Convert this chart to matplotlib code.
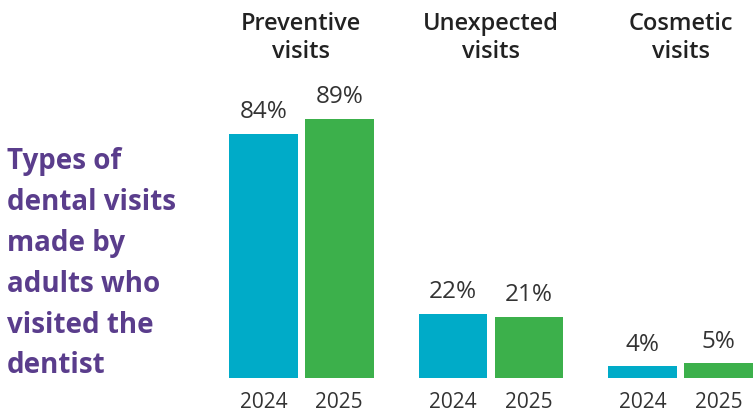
import matplotlib
matplotlib.use('agg')
import matplotlib.pyplot as plt
import numpy as np

# data
groups = ['Preventive\nvisits', 'Unexpected\nvisits', 'Cosmetic\nvisits']
years = ['2024', '2025']
vals_2024 = [84, 22, 4]
vals_2025 = [89, 21, 5]
title = 'Types of\ndental visits\nmade by\nadults who\nvisited the\ndentist'

teal = '#00abc8'
green = '#3cb04b'
purple = '#5a3d8c'
font = 'Open Sans'

fig = plt.figure(figsize=(7.53, 4.12), dpi=100)
ax = fig.add_axes([229 / 753, 1 - 378 / 412, 1 - 229 / 753, 291 / 412])

x = np.arange(len(groups))
w = 0.362
off = 0.2
b1 = ax.bar(x - off, vals_2024, w, color=teal)
b2 = ax.bar(x + off, vals_2025, w, color=green)

for bars, vals, yr in ((b1, vals_2024, years[0]), (b2, vals_2025, years[1])):
    for b, v in zip(bars, vals):
        cx = b.get_x() + b.get_width() / 2
        ax.annotate(f'{v}%', (cx, v), xytext=(0, 7),
                    textcoords='offset points', ha='center', va='bottom',
                    fontsize=17.5, family=font, color='#333333')
        ax.annotate(yr, (cx, 0), xytext=(0, -10),
                    textcoords='offset points', ha='center', va='top',
                    fontsize=15, family=font, color='#333333')

# group headings above each pair of bars
for i, g in enumerate(groups):
    ax.annotate(g, (x[i], 0), xycoords=('data', 'figure fraction'),
                xytext=(0, 1 - 12 / 412), textcoords=('offset points', 'figure fraction'),
                ha='center', va='top', fontsize=17, fontweight='semibold',
                family=font, color='#222222', linespacing=1.25)

fig.text(7 / 753, 1 - 147 / 412, title, ha='left', va='top',
         fontsize=20, fontweight='bold', family=font, color=purple,
         linespacing=1.54)

ax.set_xlim(-off - w / 2, 2 + off + w / 2)
ax.set_ylim(0, 100)
ax.axis('off')

plt.savefig('out.png', dpi=100)
